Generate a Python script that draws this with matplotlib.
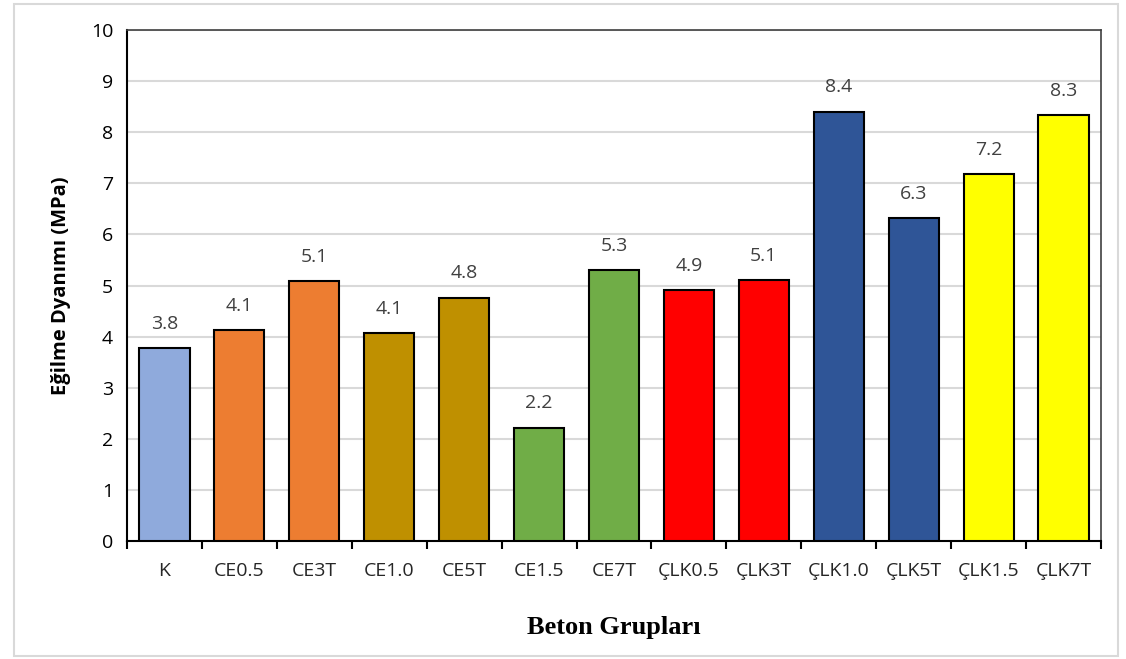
import matplotlib.pyplot as plt
import matplotlib.patches as mpatches
import numpy as np

plt.rcParams['font.family'] = ['Open Sans', 'DejaVu Sans']

groups = ['K', 'CE0.5', 'CE3T', 'CE1.0', 'CE5T', 'CE1.5', 'CE7T',
          'ÇLK0.5', 'ÇLK3T', 'ÇLK1.0', 'ÇLK5T', 'ÇLK1.5', 'ÇLK7T']
strength = [3.78, 4.12, 5.08, 4.07, 4.76, 2.22, 5.30,
            4.91, 5.10, 8.40, 6.32, 7.18, 8.33]
colors = ['#8faadc', '#ed7d31', '#ed7d31', '#bf9000', '#bf9000', '#70ad47', '#70ad47',
          '#ff0000', '#ff0000', '#2f5597', '#2f5597', '#ffff00', '#ffff00']

x = np.arange(len(groups))

fig = plt.figure(figsize=(11.26, 6.59), dpi=100)
ax = fig.add_axes([0.1128, 0.179, 0.865, 0.7755])

ax.bar(x, strength, width=0.67, color=colors, edgecolor='black', linewidth=1.5, zorder=3)

for xi, v in zip(x, strength):
    ax.text(xi, v + 0.3, f'{v:.1f}', ha='center', va='bottom', fontsize=14, color='#404040')

ax.set_xlim(-0.5, len(groups) - 0.5)
ax.set_ylim(0, 10)
ax.set_yticks(np.arange(0, 11, 1))
ax.grid(axis='y', color='#d9d9d9', linewidth=1.5, zorder=0)
ax.tick_params(axis='y', length=0, labelsize=14, pad=10)

# tick marks between categories, labels centred under bars
ax.set_xticks(np.arange(-0.5, len(groups), 1))
ax.set_xticklabels([])
ax.set_xticks(x, minor=True)
ax.set_xticklabels(groups, minor=True, fontsize=14, color='#262626')
ax.tick_params(axis='x', which='major', length=6, width=1.5, direction='out')
ax.tick_params(axis='x', which='minor', length=0, pad=15)

for s in ['top', 'right']:
    ax.spines[s].set_linewidth(1.2)
    ax.spines[s].set_color('#404040')
for s in ['left', 'bottom']:
    ax.spines[s].set_linewidth(1.5)

ax.set_ylabel('Eğilme Dyanımı (MPa)', fontsize=14.5, fontweight='bold', labelpad=14)
ax.set_xlabel('Beton Grupları', fontsize=19, fontweight='bold',
              family=['Liberation Serif'], labelpad=26)

fig.patches.append(mpatches.Rectangle((0.012, 0.004), 0.981, 0.99, transform=fig.transFigure,
                                      fill=False, edgecolor='#d9d9d9', linewidth=1.5))

plt.savefig('out.png', dpi=100)
